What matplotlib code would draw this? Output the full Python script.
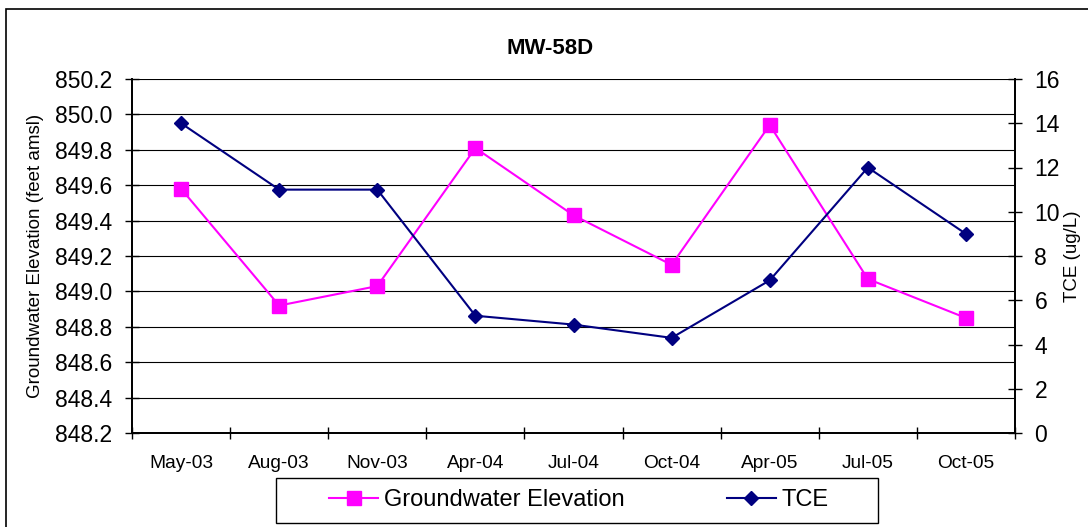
import numpy as np
import matplotlib
matplotlib.use("Agg")
import matplotlib.pyplot as plt
from matplotlib.patches import Rectangle
from matplotlib.ticker import MultipleLocator, FixedLocator

plt.rcParams['font.family'] = ['Liberation Sans', 'DejaVu Sans']

########### DATA ##############

dates = ["May-03", "Aug-03", "Nov-03", "Apr-04", "Jul-04",
         "Oct-04", "Apr-05", "Jul-05", "Oct-05"]
gw_elev = [849.58, 848.92, 849.03, 849.81, 849.43, 849.15, 849.94, 849.07, 848.85]
tce = [14.0, 11.0, 11.0, 5.3, 4.9, 4.3, 6.9, 12.0, 9.0]

########### PLOT ##############

fig = plt.figure(figsize=(10.88, 5.27), dpi=100)
ax = fig.add_axes([132/1088, 1 - 433/527, 883/1088, 354/527])
ax2 = ax.twinx()

x = np.arange(len(dates))

ax.plot(x, gw_elev, color="#FF00FF", lw=1.5, marker="s", ms=10,
        mec="#FF00FF", mfc="#FF00FF", label="Groundwater Elevation", zorder=3)
ax2.plot(x, tce, color="#000080", lw=1.5, marker="D", ms=7,
         mec="#000080", mfc="#000080", label="TCE", zorder=3)

ax.set_xlim(-0.5, len(dates) - 0.5)
ax.set_ylim(848.2, 850.2)
ax2.set_ylim(0, 16)

ax.yaxis.set_major_locator(MultipleLocator(0.2))
ax.yaxis.set_major_formatter(matplotlib.ticker.FormatStrFormatter("%.1f"))
ax2.yaxis.set_major_locator(MultipleLocator(2))

ax.set_xticks(x)
ax.set_xticklabels(dates)
ax.xaxis.set_minor_locator(FixedLocator(np.arange(-0.5, len(dates), 1.0)))
ax.tick_params(axis="x", which="major", length=0, pad=16, labelsize=13.8)
ax.tick_params(axis="x", which="minor", length=9, direction="inout", width=1)
ax.tick_params(axis="y", length=10, direction="inout", width=1, labelsize=16.5, pad=9)
ax2.tick_params(axis="y", length=10, direction="inout", width=1, labelsize=16.5, pad=9)

ax.grid(axis="y", color="black", lw=0.8)
ax.set_axisbelow(True)

for a in (ax, ax2):
    a.spines["top"].set_visible(False)
    for s in ("left", "right", "bottom"):
        a.spines[s].set_linewidth(1.3)
        a.spines[s].set_color("black")

ax.set_ylabel("Groundwater Elevation (feet amsl)", fontsize=13.5)
ax.yaxis.set_label_coords(-0.0995, 0.5)
ax2.set_ylabel("TCE (ug/L)", fontsize=13.5)
ax2.yaxis.set_label_coords(1.056, 0.5)

fig.text(550/1088, 1 - 48/527, "MW-58D", fontsize=16, fontweight="bold",
         ha="center", va="center")

# legend
h1, l1 = ax.get_legend_handles_labels()
h2, l2 = ax2.get_legend_handles_labels()
fig.legend(h1 + h2, l1 + l2, loc="center", bbox_to_anchor=(579/1088, 1 - 500/527),
           ncol=2, frameon=False, fontsize=17, handlelength=2.1,
           handletextpad=0.25, columnspacing=4.3)
fig.add_artist(Rectangle((276/1088, 1 - 523/527), 602/1088, 45/527,
                         transform=fig.transFigure, fill=False, ec="black", lw=1))

# outer chart border
fig.add_artist(Rectangle((6/1088, -0.1), 2.0, 1.1 - 9/527,
                         transform=fig.transFigure, fill=False, ec="black", lw=1.2))

fig.savefig("out.png", dpi=100)
